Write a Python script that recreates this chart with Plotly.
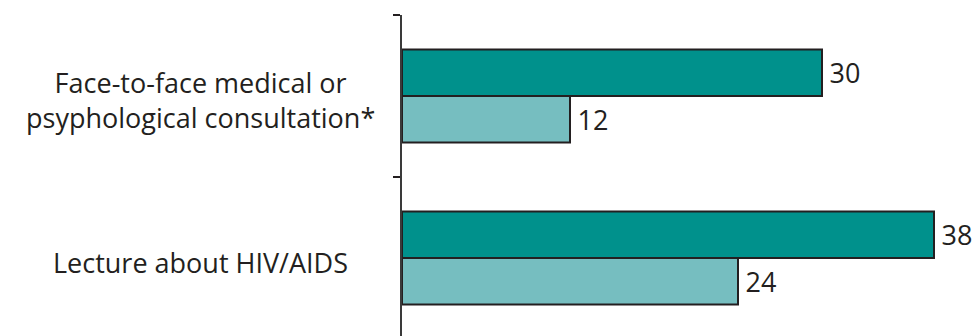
import plotly.graph_objects as go

# Categories (top to bottom) and the two series
categories = ["Face-to-face medical or<br>psyphological consultation*", "Lecture about HIV/AIDS"]
series_a = [30, 38]
series_b = [12, 24]

dark_teal = "#00918c"
light_teal = "#76bec0"
ink = "#231f20"
font_family = "Open Sans, Noto Sans, sans-serif"

cat_idx = list(range(len(categories)))

fig = go.Figure()
for vals, color in ((series_a, dark_teal), (series_b, light_teal)):
    fig.add_trace(go.Bar(
        x=vals,
        y=cat_idx,
        orientation="h",
        marker=dict(color=color, line=dict(color=ink, width=2)),
        text=[str(v) for v in vals],
        texttemplate="\u2009%{text}",
        textposition="outside",
        textfont=dict(family=font_family, size=27, color=ink),
        constraintext="none",
        cliponaxis=False,
        showlegend=False,
    ))

# Category labels drawn as centred text to the left of the axis
for i, label in enumerate(categories):
    fig.add_annotation(
        x=-0.36, xref="paper", xanchor="center",
        y=i, yref="y", yshift=-4,
        text=label, showarrow=False, align="center",
        font=dict(family=font_family, size=27, color=ink),
    )

band_px = 162
plot_h = 336 - 15
fig.update_layout(
    width=976, height=336,
    margin=dict(l=402, r=14, t=15, b=0),
    paper_bgcolor="white", plot_bgcolor="white",
    barmode="group", bargap=0.426, bargroupgap=0,
    xaxis=dict(range=[0, 40], visible=False, showgrid=False, zeroline=False),
    yaxis=dict(
        type="linear",
        range=[-0.5 + plot_h / band_px, -0.5],
        tickmode="array", tickvals=[-0.5, 0.5, 1.5], ticktext=["", "", ""],
        ticks="outside", ticklen=7, tickwidth=2, tickcolor=ink,
        showline=True, linewidth=2, linecolor="#3a3a3a",
        showgrid=False, zeroline=False,
    ),
)

fig.write_html("out.html")
